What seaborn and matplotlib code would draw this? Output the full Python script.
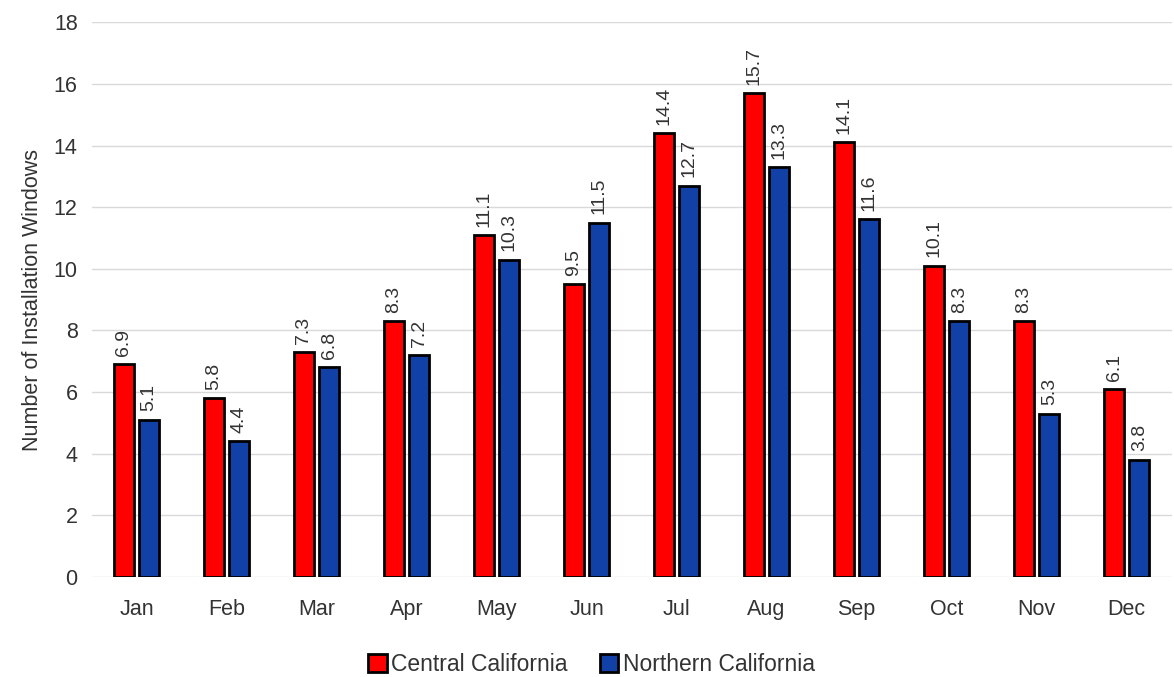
import matplotlib
matplotlib.use("Agg")
import matplotlib.pyplot as plt
import seaborn as sns
import pandas as pd

months = ["Jan", "Feb", "Mar", "Apr", "May", "Jun", "Jul", "Aug", "Sep", "Oct", "Nov", "Dec"]
central = [6.9, 5.8, 7.3, 8.3, 11.1, 9.5, 14.4, 15.7, 14.1, 10.1, 8.3, 6.1]
northern = [5.1, 4.4, 6.8, 7.2, 10.3, 11.5, 12.7, 13.3, 11.6, 8.3, 5.3, 3.8]
series = ["Central California", "Northern California"]
colors = ["#FF0000", "#1140A6"]

df = pd.DataFrame({
    "Month": months * 2,
    "Value": central + northern,
    "Region": [series[0]] * len(months) + [series[1]] * len(months),
})

sns.set_theme(style="white")
plt.rcParams["font.family"] = ["Liberation Sans", "DejaVu Sans"]

fig = plt.figure(figsize=(11.74, 6.77), dpi=100)
ax = fig.add_axes([0.078, 0.148, 0.92, 0.819])

sns.barplot(data=df, x="Month", y="Value", hue="Region", order=months,
            hue_order=series, palette=colors, width=0.56, gap=0.2,
            edgecolor="black", linewidth=2, saturation=1, ax=ax, zorder=3)

for cont in ax.containers:
    ax.bar_label(cont, labels=[f"{v:.1f}" for v in cont.datavalues], rotation=90,
                 padding=6, fontsize=14, color="#333333")

ax.set_ylim(0, 18)
ax.set_yticks(range(0, 19, 2))
ax.set_xlim(-0.5, 11.5)
ax.yaxis.grid(True, color="#d9d9d9", linewidth=1, zorder=0)
ax.set_axisbelow(True)
for s in ax.spines.values():
    s.set_visible(False)
ax.tick_params(axis="both", length=0, labelsize=15.5, colors="#333333")
ax.tick_params(axis="x", pad=16)
ax.tick_params(axis="y", pad=10)
ax.set_xlabel("")
ax.set_ylabel("Number of Installation Windows", fontsize=15.5, color="#333333", labelpad=8)

ax.legend(loc="upper center", bbox_to_anchor=(0.463, -0.1), ncol=2, frameon=False,
          fontsize=16.5, handlelength=0.8, handleheight=0.8, handletextpad=0.2,
          columnspacing=1.4, labelcolor="#333333")

fig.savefig("out.png", dpi=100)
